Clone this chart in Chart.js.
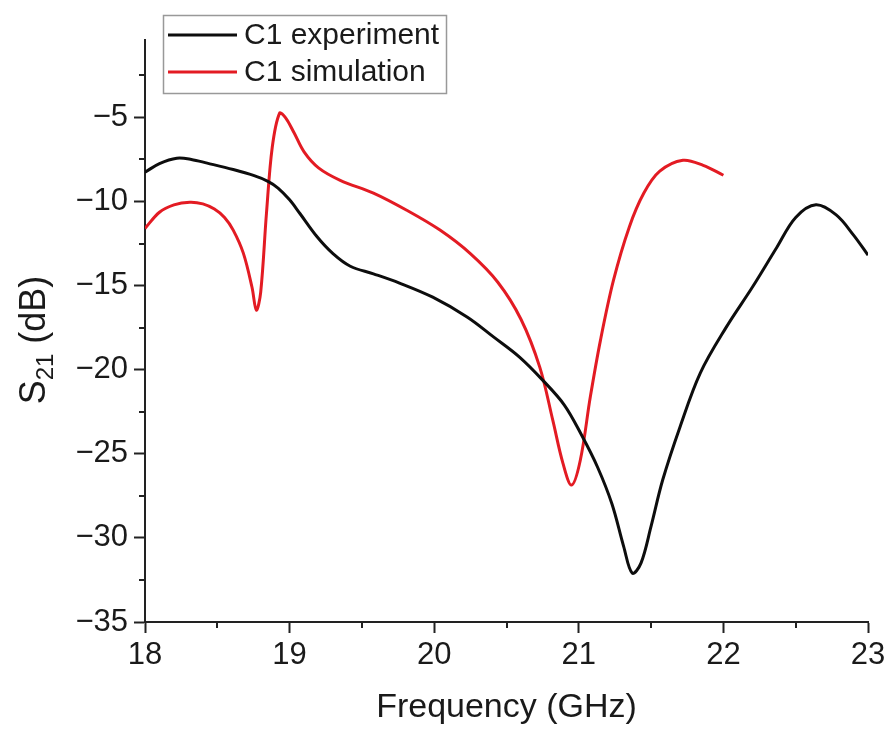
<!DOCTYPE html>
<html>
<head>
<meta charset="utf-8">
<script src="https://cdn.jsdelivr.net/npm/chart.js@4.4.1/dist/chart.umd.min.js"></script>
<style>
  html, body { margin: 0; padding: 0; background: #fff; }
</style>
</head>
<body>
<canvas id="s21Chart" width="892" height="734"></canvas>
<script>
const FONT = "'Liberation Sans', Arial, Helvetica, sans-serif";

// measured S21 of sample C1
const expFreq = [18.00, 18.10, 18.22, 18.32, 18.43, 18.61, 18.75, 18.85, 18.92, 19.00,
  19.07, 19.19, 19.30, 19.42, 19.58, 19.76, 19.99, 20.23, 20.41, 20.59,
  20.75, 20.90, 21.02, 21.13, 21.23, 21.31, 21.37, 21.43, 21.50, 21.58,
  21.70, 21.84, 22.02, 22.20, 22.37, 22.50, 22.64, 22.78, 22.90, 23.00];
const expS21 = [-8.26, -7.75, -7.43, -7.50, -7.72, -8.10, -8.45, -8.80, -9.20, -9.90,
  -10.70, -12.10, -13.10, -13.85, -14.30, -14.85, -15.69, -16.88, -18.05, -19.25,
  -20.62, -22.10, -23.90, -25.80, -28.00, -30.50, -32.10, -31.50, -29.30, -26.56,
  -23.40, -20.20, -17.47, -15.10, -12.72, -10.95, -10.20, -10.80, -12.00, -13.19];

// simulated S21 of sample C1
const simFreq = [18.00, 18.10, 18.20, 18.31, 18.40, 18.48, 18.55, 18.61, 18.68, 18.74,
  18.77, 18.80, 18.84, 18.88, 18.93, 18.97, 19.03, 19.10, 19.20, 19.35,
  19.58, 19.81, 20.04, 20.25, 20.44, 20.60, 20.73, 20.82, 20.89, 20.95,
  21.01, 21.08, 21.15, 21.24, 21.35, 21.45, 21.56, 21.72, 21.86, 22.00];
const simS21 = [-11.60, -10.64, -10.20, -10.04, -10.14, -10.45, -10.95, -11.70, -13.07, -15.10,
  -16.46, -15.40, -10.70, -6.78, -4.76, -5.00, -5.90, -7.05, -8.00, -8.74,
  -9.50, -10.52, -11.70, -13.10, -14.80, -17.00, -19.85, -23.00, -25.55, -26.86,
  -25.40, -21.60, -18.24, -14.68, -11.50, -9.50, -8.20, -7.55, -7.85, -8.44];

const seriesNames = ['C1 experiment', 'C1 simulation'];
const seriesColors = ['#0d0d0d', '#e31b23'];

const freqTicks = [18, 19, 20, 21, 22, 23];
const freqMinor = [18.5, 19.5, 20.5, 21.5, 22.5];
const dbTicks = [-35, -30, -25, -20, -15, -10, -5];
const dbMinor = [-32.5, -27.5, -22.5, -17.5, -12.5, -7.5, -2.5];

function toPoints(xs, ys) {
  return xs.map((x, i) => ({ x: x, y: ys[i] }));
}

// short outward minor ticks on both axes
const minorTicks = {
  id: 'minorTicks',
  afterDraw(chart) {
    const { ctx, chartArea, scales } = chart;
    ctx.save();
    ctx.strokeStyle = '#222';
    ctx.lineWidth = 2;
    ctx.beginPath();
    freqMinor.forEach(v => {
      const px = Math.round(scales.x.getPixelForValue(v));
      ctx.moveTo(px, chartArea.bottom);
      ctx.lineTo(px, chartArea.bottom + 6);
    });
    dbMinor.forEach(v => {
      const py = Math.round(scales.y.getPixelForValue(v));
      ctx.moveTo(chartArea.left - 6, py);
      ctx.lineTo(chartArea.left, py);
    });
    ctx.stroke();
    ctx.restore();
  }
};

// y title with a real subscript: S21 (dB)
const yTitle = {
  id: 'yTitle',
  afterDraw(chart) {
    const ctx = chart.ctx;
    const big = '36px ' + FONT;
    const small = '24px ' + FONT;
    ctx.save();
    ctx.fillStyle = '#1a1a1a';
    ctx.textBaseline = 'alphabetic';
    ctx.font = big;
    const wS = ctx.measureText('S').width;
    const wRest = ctx.measureText(' (dB)').width;
    ctx.font = small;
    const wSub = ctx.measureText('21').width;
    const total = wS + wSub + wRest;
    ctx.translate(45, 340);
    ctx.rotate(-Math.PI / 2);
    let x = -total / 2;
    ctx.font = big;
    ctx.fillText('S', x, 0);
    x += wS;
    ctx.font = small;
    ctx.fillText('21', x, 8);
    x += wSub;
    ctx.font = big;
    ctx.fillText(' (dB)', x, 0);
    ctx.restore();
  }
};

// boxed legend in the upper left of the plot
const boxLegend = {
  id: 'boxLegend',
  afterDraw(chart) {
    const ctx = chart.ctx;
    const left = 163, top = 15, w = 283, h = 78;
    ctx.save();
    ctx.fillStyle = '#fff';
    ctx.fillRect(left, top, w, h);
    ctx.strokeStyle = '#999';
    ctx.lineWidth = 1.5;
    ctx.strokeRect(left + 0.5, top + 0.5, w, h);
    ctx.font = '30px ' + FONT;
    ctx.textBaseline = 'middle';
    seriesNames.forEach((name, i) => {
      const y = top + 20 + i * 37;
      ctx.strokeStyle = seriesColors[i];
      ctx.lineWidth = 3;
      ctx.beginPath();
      ctx.moveTo(left + 5, y);
      ctx.lineTo(left + 74, y);
      ctx.stroke();
      ctx.fillStyle = '#1a1a1a';
      ctx.fillText(name, left + 81, y + 1);
    });
    ctx.restore();
  }
};

const ctx = document.getElementById('s21Chart');

const s21Chart = new Chart(ctx, {
  type: 'line',
  data: {
    datasets: [
      {
        label: seriesNames[0],
        data: toPoints(expFreq, expS21),
        borderColor: seriesColors[0],
        borderWidth: 3,
        pointRadius: 0,
        tension: 0.35
      },
      {
        label: seriesNames[1],
        data: toPoints(simFreq, simS21),
        borderColor: seriesColors[1],
        borderWidth: 3,
        pointRadius: 0,
        tension: 0.35
      }
    ]
  },
  options: {
    responsive: false,
    animation: false,
    devicePixelRatio: 1,
    layout: { padding: { top: 40, right: 24, left: 0, bottom: 0 } },
    plugins: {
      legend: { display: false },
      tooltip: { enabled: false }
    },
    scales: {
      x: {
        type: 'linear',
        min: 18,
        max: 23,
        afterBuildTicks: scale => { scale.ticks = freqTicks.map(v => ({ value: v })); },
        afterFit: scale => { scale.height = 112; },
        ticks: {
          color: '#1a1a1a',
          font: { family: FONT, size: 31 },
          padding: 4,
          maxRotation: 0
        },
        grid: { drawOnChartArea: false, tickLength: 11, tickColor: '#222', tickWidth: 2 },
        border: { color: '#222', width: 2 },
        title: {
          display: true,
          text: 'Frequency (GHz)',
          color: '#1a1a1a',
          font: { family: FONT, size: 34 },
          padding: { top: 0, bottom: 6 }
        }
      },
      y: {
        type: 'linear',
        min: -35,
        max: -0.4,
        afterBuildTicks: scale => { scale.ticks = dbTicks.map(v => ({ value: v })); },
        afterFit: scale => { scale.width = 145; },
        ticks: {
          color: '#1a1a1a',
          font: { family: FONT, size: 31 },
          padding: 6,
          callback: v => String(v).replace('-', '\u2212')
        },
        grid: { drawOnChartArea: false, tickLength: 11, tickColor: '#222', tickWidth: 2 },
        border: { color: '#222', width: 2 }
      }
    }
  },
  plugins: [minorTicks, yTitle, boxLegend]
});
</script>
</body>
</html>
